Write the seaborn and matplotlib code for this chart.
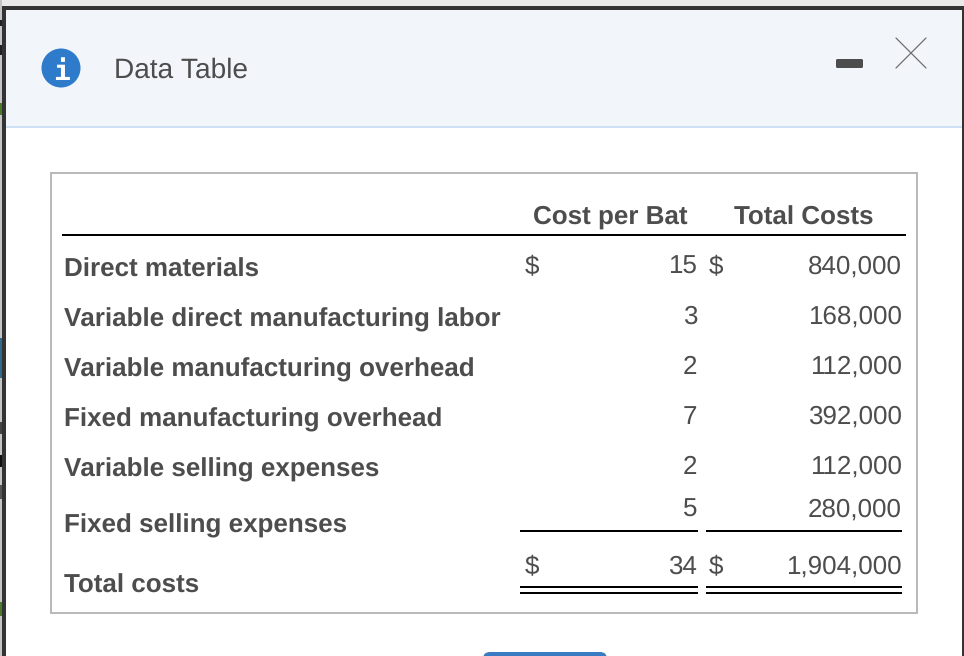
#!/usr/bin/env python3
import matplotlib
matplotlib.use("Agg")
import matplotlib.pyplot as plt
from matplotlib.patches import Circle, FancyBboxPatch, Rectangle
import pandas as pd
import seaborn as sns

# Table contents
row_labels = [
    "Direct materials",
    "Variable direct manufacturing labor",
    "Variable manufacturing overhead",
    "Fixed manufacturing overhead",
    "Variable selling expenses",
    "Fixed selling expenses",
    "Total costs",
]
cost_per_bat = [15, 3, 2, 7, 2, 5, 34]
total_costs = [840000, 168000, 112000, 392000, 112000, 280000, 1904000]
dollar_rows = ["Direct materials", "Total costs"]
column_titles = ["Cost per Bat", "Total Costs"]
dialog_title = "Data Table"

# Row baselines in pixels
label_base = [277, 326, 376, 426, 476, 532, 593]
value_base = [274, 324, 374, 424, 474, 517, 574]

TEXT = "#4d4d4d"
FONT = ["Liberation Sans", "DejaVu Sans"]


def draw_window(ax):
    # Dark dialog frame and the bits of page showing behind it
    ax.add_patch(Rectangle((0, 0), 964, 6, color="#e9e9e9", lw=0))
    ax.add_patch(Rectangle((0, 0), 2, 656, color="#c4c4c4", lw=0))
    for y, h, c in [(20, 6, "#222222"), (45, 10, "#222222"), (103, 12, "#4a7a2a"),
                    (338, 40, "#2f6a8a"), (422, 12, "#444444"), (455, 12, "#111111"),
                    (485, 14, "#555555"), (602, 14, "#4a7a2a")]:
        ax.add_patch(Rectangle((0, y), 2, h, color=c, lw=0))
    ax.add_patch(Rectangle((2, 6), 962, 650, color="#333333", lw=0))
    ax.add_patch(Rectangle((6, 10), 956, 646, color="white", lw=0))

    # Header band
    ax.add_patch(Rectangle((6, 10), 956, 116, color="#f2f5fa", lw=0))
    ax.add_patch(Rectangle((6, 126), 956, 2, color="#cfe2f5", lw=0))

    # Info icon, title, minimise and close
    ax.add_patch(Circle((61, 68), 19.5, color="#2f7bcb", lw=0))
    ax.text(61, 79.5, "i", family="DejaVu Sans Mono", weight="bold", fontsize=20,
            color="white", ha="center", va="baseline")
    ax.text(114.5, 78, dialog_title, family=FONT, fontsize=19.9, color=TEXT)
    ax.add_patch(FancyBboxPatch((836, 59), 27, 9, boxstyle="round,pad=0,rounding_size=1.5",
                                color="#4d4d4d", lw=0))
    ax.plot([896, 926], [38, 68], color="#707070", lw=0.9)
    ax.plot([896, 926], [68, 38], color="#707070", lw=0.9)

    # Button peeking in at the bottom edge
    ax.add_patch(FancyBboxPatch((483, 652), 124, 20, boxstyle="round,pad=0,rounding_size=7",
                                color="#3a7cc4", lw=0))


def draw_table(ax, table):
    ax.add_patch(Rectangle((51, 173), 866, 440, fill=False, ec="#b9b9b9", lw=1.44))

    ax.text(610, 224, column_titles[0], family=FONT, weight="bold", fontsize=18.6,
            color=TEXT, ha="center")
    ax.text(804, 224.6, column_titles[1], family=FONT, weight="bold", fontsize=18.6,
            color=TEXT, ha="center")
    ax.plot([62, 906], [235, 235], color="black", lw=1.44, solid_capstyle="butt")

    for row in table.itertuples():
        ax.text(64, row.label_y, row.label, family=FONT, weight="bold", fontsize=18.6, color=TEXT)
        ax.text(697, row.value_y, f"{row.cost}", family=FONT, fontsize=18.6, color=TEXT, ha="right")
        ax.text(901.7, row.value_y, f"{row.total:,}", family=FONT, fontsize=18.6, color=TEXT, ha="right")
        if row.label in dollar_rows:
            ax.text(524.8, row.value_y, "$", family=FONT, fontsize=18.6, color=TEXT)
            ax.text(708.8, row.value_y, "$", family=FONT, fontsize=18.6, color=TEXT)

    # Subtotal rule and double rule under the totals
    for x0, x1 in [(520, 698), (706, 902)]:
        for y in [530.7, 586.7, 592.7]:
            ax.plot([x0, x1], [y, y], color="black", lw=1.44, solid_capstyle="butt")


if __name__ == "__main__":
    sns.set_theme(style="white")
    # Smooth text like the browser rendering in the reference
    plt.rcParams["text.hinting"] = "no_hinting"
    plt.rcParams["text.hinting_factor"] = 1
    table = pd.DataFrame({
        "label": row_labels,
        "cost": cost_per_bat,
        "total": total_costs,
        "label_y": label_base,
        "value_y": value_base,
    })

    fig = plt.figure(figsize=(9.64, 6.56), dpi=100, facecolor="white")
    ax = fig.add_axes([0, 0, 1, 1])
    ax.set_xlim(0, 964)
    ax.set_ylim(656, 0)
    ax.axis("off")

    draw_window(ax)
    draw_table(ax, table)

    fig.savefig("out.png", dpi=100)
